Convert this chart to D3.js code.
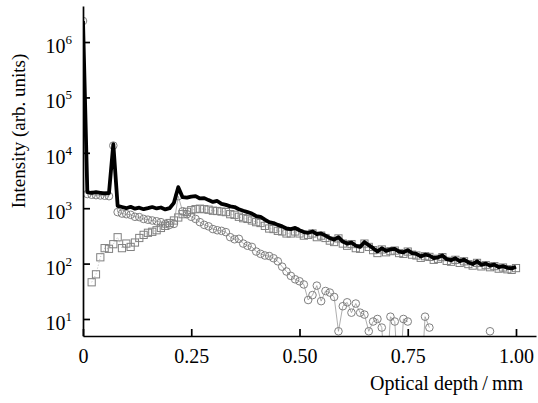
<!DOCTYPE html>
<html>
<head>
<meta charset="utf-8">
<script src="https://cdn.jsdelivr.net/npm/d3@7"></script>
<style>
  body { margin: 0; background: #fff; }
  text { font-family: "Liberation Serif", "DejaVu Serif", serif; fill: #000; }
</style>
</head>
<body>
<div id="container"></div>
<script>
/* CONSTANTS AND GLOBALS */
const width = 538;
const height = 403;
const margin = { left: 83, right: 2, top: 6, bottom: 67 };

/* DATA */
// optical depth (mm), one sample every 0.01 mm
const depth = [
  0.00, 0.01, 0.02, 0.03, 0.04, 0.05, 0.06, 0.07, 0.08, 0.09,
  0.10, 0.11, 0.12, 0.13, 0.14, 0.15, 0.16, 0.17, 0.18, 0.19,
  0.20, 0.21, 0.22, 0.23, 0.24, 0.25, 0.26, 0.27, 0.28, 0.29,
  0.30, 0.31, 0.32, 0.33, 0.34, 0.35, 0.36, 0.37, 0.38, 0.39,
  0.40, 0.41, 0.42, 0.43, 0.44, 0.45, 0.46, 0.47, 0.48, 0.49,
  0.50, 0.51, 0.52, 0.53, 0.54, 0.55, 0.56, 0.57, 0.58, 0.59,
  0.60, 0.61, 0.62, 0.63, 0.64, 0.65, 0.66, 0.67, 0.68, 0.69,
  0.70, 0.71, 0.72, 0.73, 0.74, 0.75, 0.76, 0.77, 0.78, 0.79,
  0.80, 0.81, 0.82, 0.83, 0.84, 0.85, 0.86, 0.87, 0.88, 0.89,
  0.90, 0.91, 0.92, 0.93, 0.94, 0.95, 0.96, 0.97, 0.98, 0.99,
  1.00
];

// total intensity (thick black line)
const total = [
  2400000, 1950, 1900, 1950, 1900, 1850, 1880, 14300, 1100, 1050,
  1000, 1060, 980, 1020, 960, 1000, 1050, 990, 1030, 950,
  1000, 1250, 2400, 1580, 1550, 1620, 1650, 1500, 1520, 1400,
  1300, 1350, 1200, 1150, 1080, 1050, 960, 900, 850, 800,
  720, 700, 620, 560, 540, 500, 470, 430, 420, 440,
  400, 370, 360, 380, 340, 350, 320, 290, 270, 300,
  250, 230, 240, 210, 200, 245, 215, 190, 165, 190,
  170, 180, 185, 165, 160, 175, 155, 150, 135, 145,
  140, 125, 130, 140, 120, 115, 125, 110, 118, 105,
  98, 110, 95, 100, 92, 96, 86, 90, 84, 82,
  88
];

// open circles (surface component)
const circles = [
  2400000, 1800, 1750, 1720, 1700, 1680, 1650, 13500, 850, 800,
  780, 760, 700, 690, 640, 620, 600, 580, 560, 520,
  500, 520, 1650, 880, 780, 700, 640, 560, 500, 470,
  420, 400, 390, 370, 300, 275, 280, 230, 210, 200,
  165, 150, 140, 137, 125, 110, 88, 72, 60, 52,
  48, 42, 22, 27, 40, 21, 32, 30, 25, 6,
  17, 20, 13, 19, 13, 12, 6, 9, 10, 7,
  0.5, 11, 9, 0.5, 10, 9, null, null, 0.5, 11,
  7, null, null, null, null, null, null, null, null, null,
  null, null, null, null, 6, null, null, null, null, null,
  null
];

// open squares (subsurface component)
const squares = [
  null, null, 46, 64, 130, 190, 185, 224, 299, 190,
  230, 200, 240, 290, 330, 360, 375, 400, 440, 480,
  540, 600, 680, 780, 860, 920, 960, 980, 960, 940,
  900, 890, 870, 850, 780, 760, 700, 660, 640, 600,
  560, 540, 480, 430, 420, 390, 380, 350, 350, 380,
  350, 320, 330, 350, 300, 320, 290, 260, 245, 285,
  230, 210, 225, 190, 185, 230, 200, 175, 155, 180,
  160, 168, 172, 155, 150, 165, 145, 140, 127, 136,
  132, 117, 122, 131, 112, 108, 117, 103, 110, 98,
  92, 103, 89, 94, 86, 90, 81, 85, 79, 77,
  83
];

const xTicks = [0, 0.25, 0.5, 0.75, 1.0];
const xTickLabels = ["0", "0.25", "0.50", "0.75", "1.00"];
const yExponents = [1, 2, 3, 4, 5, 6];

/* SCALES */
const xScale = d3.scaleLinear()
  .domain([0, 1.0462])
  .range([margin.left, width - margin.right]);

const yScale = d3.scaleLog()
  .domain([4.93, 4.47e6])
  .range([height - margin.bottom, margin.top]);

/* HTML ELEMENTS */
const svg = d3.select("#container")
  .append("svg")
  .attr("width", width)
  .attr("height", height);

svg.append("clipPath")
  .attr("id", "plot")
  .append("rect")
  .attr("x", margin.left)
  .attr("y", 0)
  .attr("width", width - margin.left)
  .attr("height", height - margin.bottom);

const plot = svg.append("g").attr("clip-path", "url(#plot)");

const pts = arr => depth.map((d, i) => ({ x: d, v: arr[i] }));

const line = d3.line()
  .defined(d => d.v != null)
  .x(d => xScale(d.x))
  .y(d => yScale(d.v));

// squares series: dotted guide + markers
plot.append("path")
  .datum(pts(squares))
  .attr("d", line)
  .attr("fill", "none")
  .attr("stroke", "#aaa")
  .attr("stroke-width", 0.8)
  .attr("stroke-dasharray", "1,2");

plot.selectAll("rect.sq")
  .data(pts(squares).filter(d => d.v != null))
  .join("rect")
  .attr("class", "sq")
  .attr("x", d => xScale(d.x) - 3.6)
  .attr("y", d => yScale(d.v) - 3.6)
  .attr("width", 7.2)
  .attr("height", 7.2)
  .attr("fill", "none")
  .attr("stroke", "#808080")
  .attr("stroke-width", 1);

// circles series: thin line + markers
plot.append("path")
  .datum(pts(circles))
  .attr("d", line)
  .attr("fill", "none")
  .attr("stroke", "#999")
  .attr("stroke-width", 0.8);

plot.selectAll("circle")
  .data(pts(circles).filter(d => d.v != null))
  .join("circle")
  .attr("cx", d => xScale(d.x))
  .attr("cy", d => yScale(d.v))
  .attr("r", 3.8)
  .attr("fill", "none")
  .attr("stroke", "#808080")
  .attr("stroke-width", 1);

// total: thick black line
plot.append("path")
  .datum(pts(total))
  .attr("d", line)
  .attr("fill", "none")
  .attr("stroke", "#000")
  .attr("stroke-width", 3.8)
  .attr("stroke-linejoin", "round");

/* AXES */
const xAxis = d3.axisBottom(xScale)
  .tickValues(xTicks)
  .tickSizeInner(-7)
  .tickSizeOuter(0)
  .tickPadding(13)
  .tickFormat((d, i) => xTickLabels[i]);

const yAxis = d3.axisLeft(yScale)
  .tickValues(yExponents.map(e => Math.pow(10, e)))
  .tickSizeInner(-7)
  .tickSizeOuter(0)
  .tickFormat("");

const gx = svg.append("g")
  .attr("transform", `translate(0,${height - margin.bottom})`)
  .call(xAxis);
gx.selectAll("text")
  .style("font-family", '"Liberation Serif", serif')
  .style("font-size", "20px");

const gy = svg.append("g")
  .attr("transform", `translate(${margin.left},0)`)
  .call(yAxis);

[gx, gy].forEach(g => {
  g.select(".domain").attr("stroke-width", 1.7);
  g.selectAll(".tick line").attr("stroke-width", 1.7);
});

// 10^n labels
const yLab = svg.selectAll("text.ylab")
  .data(yExponents)
  .join("text")
  .attr("class", "ylab")
  .attr("x", 72)
  .attr("y", d => yScale(Math.pow(10, d)) + 11)
  .attr("text-anchor", "end")
  .style("font-size", "20px");
yLab.append("tspan").text("10");
yLab.append("tspan")
  .attr("dy", -9)
  .style("font-size", "13px")
  .text(d => d);

// axis titles
svg.append("text")
  .attr("transform", "translate(25,131) rotate(-90)")
  .attr("text-anchor", "middle")
  .style("font-size", "19px")
  .text("Intensity (arb. units)");

svg.append("text")
  .attr("x", 523)
  .attr("y", 390)
  .attr("text-anchor", "end")
  .style("font-size", "20px")
  .text("Optical depth\u2009/\u2009mm");
</script>
</body>
</html>
